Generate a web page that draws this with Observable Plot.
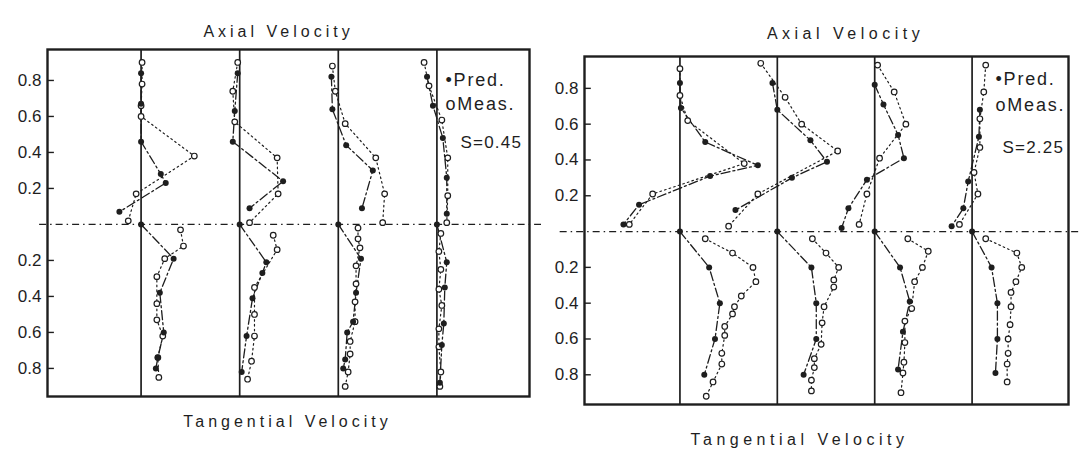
<!DOCTYPE html>
<html>
<head>
<meta charset="utf-8">
<script src="https://cdn.jsdelivr.net/npm/d3@7"></script>
<script src="https://cdn.jsdelivr.net/npm/@observablehq/plot@0.6"></script>
<style>
  html, body { margin: 0; padding: 0; background: #fff; }
  #wrap { width: 1082px; height: 453px; display: flex; }
  #wrap svg { display: block; }
</style>
</head>
<body>
<div id="wrap"></div>
<script>
// ---------------- DATA ----------------
// Station baselines (profile offsets across each panel)
const stations = [0, 1, 2, 3];
// Radius tick values (upper half: axial, lower half: tangential)
const rTicks = [0.2, 0.4, 0.6, 0.8];

// Each entry: [r, velocity offset from station baseline]
// ---- S = 0.45 (left panel) ----
const axialPredL = [
  [[0.84,0],[0.67,0],[0.46,0],[0.28,0.2],[0.23,0.25],[0.07,-0.22]],
  [[0.84,-0.02],[0.63,-0.05],[0.46,-0.07],[0.24,0.44],[0.09,0.1]],
  [[0.82,-0.07],[0.64,-0.06],[0.44,0.08],[0.30,0.35],[0.09,0.24]],
  [[0.82,-0.1],[0.66,-0.04],[0.48,0.06],[0.26,0.1],[0.06,0.1]]
];
const axialMeasL = [
  [[0.9,0.01],[0.78,0.01],[0.66,0],[0.6,0],[0.38,0.54],[0.17,-0.05],[0.02,-0.13]],
  [[0.9,-0.02],[0.74,-0.07],[0.57,-0.05],[0.37,0.38],[0.17,0.39],[0.01,0.1]],
  [[0.88,-0.06],[0.74,-0.03],[0.56,0.07],[0.37,0.38],[0.17,0.47],[0.01,0.45]],
  [[0.9,-0.13],[0.77,-0.08],[0.58,0.05],[0.37,0.11],[0.16,0.11],[0.01,0.1]]
];
const tangPredL = [
  [[0,0],[0.19,0.33],[0.38,0.19],[0.6,0.23],[0.74,0.17],[0.8,0.15]],
  [[0,0],[0.21,0.27],[0.27,0.23],[0.41,0.13],[0.62,0.07],[0.82,0.02]],
  [[0,0],[0.19,0.23],[0.38,0.18],[0.54,0.15],[0.6,0.09],[0.75,0.07],[0.8,0.05]],
  [[0,0],[0.21,0.1],[0.35,0.08],[0.55,0.07],[0.67,0.05],[0.88,0.03]]
];
const tangMeasL = [
  [[0.03,0.4],[0.12,0.43],[0.19,0.24],[0.29,0.16],[0.44,0.16],[0.53,0.16],[0.62,0.22],[0.74,0.17],[0.85,0.18]],
  [[0.06,0.34],[0.14,0.38],[0.35,0.15],[0.5,0.15],[0.62,0.15],[0.76,0.12],[0.86,0.08]],
  [[0.02,0.2],[0.08,0.2],[0.13,0.22],[0.23,0.18],[0.33,0.18],[0.43,0.17],[0.54,0.17],[0.65,0.12],[0.72,0.12],[0.82,0.1],[0.9,0.07]],
  [[0.05,0.04],[0.15,0.02],[0.25,0.04],[0.36,0.02],[0.45,0.05],[0.58,0.02],[0.68,0.02],[0.82,0.04],[0.9,0.03]]
];

// ---- S = 2.25 (right panel) ----
const axialPredR = [
  [[0.83,0],[0.69,0.01],[0.5,0.26],[0.37,0.8],[0.31,0.31],[0.15,-0.42],[0.04,-0.58]],
  [[0.83,-0.05],[0.68,0],[0.51,0.34],[0.39,0.51],[0.3,0.15],[0.12,-0.43]],
  [[0.82,0],[0.71,0.09],[0.54,0.24],[0.41,0.3],[0.29,-0.08],[0.13,-0.27],[0.02,-0.34]],
  [[0.68,0.08],[0.53,0.07],[0.28,-0.04],[0.13,-0.09],[0.03,-0.21]]
];
const axialMeasR = [
  [[0.91,0],[0.76,0],[0.62,0.08],[0.38,0.66],[0.21,-0.28],[0.04,-0.52]],
  [[0.94,-0.17],[0.75,0.08],[0.6,0.25],[0.45,0.62],[0.21,-0.2],[0.03,-0.5]],
  [[0.93,0.03],[0.78,0.2],[0.6,0.32],[0.41,0.05],[0.21,-0.08],[0.04,-0.16]],
  [[0.93,0.14],[0.78,0.12],[0.63,0.08],[0.47,0.08],[0.33,0.02],[0.21,0.06],[0.04,-0.13]]
];
const tangPredR = [
  [[0,0],[0.2,0.3],[0.4,0.41],[0.6,0.36],[0.8,0.25]],
  [[0,0],[0.2,0.35],[0.4,0.4],[0.6,0.4],[0.8,0.27]],
  [[0,0],[0.2,0.26],[0.39,0.36],[0.56,0.29],[0.77,0.24]],
  [[0,0],[0.2,0.2],[0.4,0.26],[0.6,0.26],[0.79,0.24]]
];
const tangMeasR = [
  [[0.04,0.26],[0.12,0.54],[0.2,0.75],[0.28,0.78],[0.36,0.63],[0.42,0.56],[0.46,0.54],[0.53,0.46],[0.58,0.46],[0.68,0.43],[0.74,0.43],[0.84,0.34],[0.92,0.27]],
  [[0.04,0.36],[0.12,0.5],[0.2,0.63],[0.27,0.58],[0.31,0.58],[0.42,0.48],[0.51,0.46],[0.63,0.45],[0.71,0.38],[0.76,0.38],[0.83,0.35],[0.89,0.35]],
  [[0.04,0.34],[0.11,0.55],[0.2,0.49],[0.28,0.41],[0.43,0.38],[0.5,0.31],[0.62,0.31],[0.73,0.3],[0.79,0.29],[0.9,0.27]],
  [[0.04,0.14],[0.12,0.46],[0.2,0.51],[0.28,0.45],[0.34,0.4],[0.42,0.4],[0.52,0.39],[0.6,0.37],[0.68,0.37],[0.74,0.36],[0.84,0.36]]
];

// Text
const titleTop = "Axial Velocity";
const titleBottom = "Tangential Velocity";
const legendPred = "\u2022Pred.";
const legendMeas = "oMeas.";
const swirlL = "S=0.45";
const swirlR = "S=2.25";

// ---------------- RENDER ----------------
const ink = "#1e1e1e";
const font = "'Liberation Sans', 'DejaVu Sans', sans-serif";

function rows(axial, tang, series) {
  const out = [];
  axial.forEach((prof, i) => prof.forEach(([r, v]) =>
    out.push({x: stations[i] + v, y: r, g: `a${i}`, series})));
  tang.forEach((prof, i) => prof.forEach(([r, v]) =>
    out.push({x: stations[i] + v, y: -r, g: `t${i}`, series})));
  return out;
}

function panel(cfg) {
  const pred = rows(cfg.axialPred, cfg.tangPred, "Pred.");
  const meas = rows(cfg.axialMeas, cfg.tangMeas, "Meas.");
  const yTicks = [...rTicks.map(d => -d), ...rTicks];
  const xd = cfg.xDomain;
  const svg = Plot.plot({
    width: 541,
    height: 453,
    marginLeft: cfg.m[0], marginRight: cfg.m[1], marginTop: cfg.m[2], marginBottom: cfg.m[3],
    style: {fontFamily: font, background: "#fff", color: ink, overflow: "visible"},
    x: {domain: xd, axis: null},
    y: {domain: cfg.yDomain, axis: null},
    marks: [
      Plot.ruleY([0], {x1: xd[0] + cfg.cl[0], x2: xd[1] + cfg.cl[1], stroke: ink, strokeWidth: 1.2, strokeDasharray: "7,4,1.5,4"}),
      Plot.ruleX(stations, {stroke: ink, strokeWidth: 1.7}),
      Plot.frame({stroke: ink, strokeWidth: 2.4}),
      Plot.ruleY(yTicks, {x1: xd[0], x2: xd[0] + 0.07, stroke: ink, strokeWidth: 1.4}),
      Plot.axisY({ticks: yTicks, tickFormat: d => Math.abs(d).toFixed(1), tickSize: 0, tickPadding: 6,
                  fontSize: 17, label: null, fill: ink}),
      Plot.line(meas, {x: "x", y: "y", z: "g", stroke: ink, strokeWidth: 1.2, strokeDasharray: "1.6,3.2"}),
      Plot.line(pred, {x: "x", y: "y", z: "g", stroke: ink, strokeWidth: 1.3, strokeDasharray: "9,3,2,3"}),
      Plot.dot(meas, {x: "x", y: "y", r: 2.8, stroke: ink, strokeWidth: 1.2, fill: "#fff"}),
      Plot.dot(pred, {x: "x", y: "y", r: 3, fill: ink}),
      Plot.text([titleTop], {text: d => d, frameAnchor: "top", dx: cfg.tTop[0], dy: cfg.tTop[1], fontSize: 16, fill: ink}),
      Plot.text([titleBottom], {text: d => d, frameAnchor: "bottom", dx: cfg.tBot[0], dy: cfg.tBot[1], fontSize: 16, fill: ink}),
      Plot.text([legendPred], {text: d => d, frameAnchor: "top-right", textAnchor: "start", dx: cfg.leg[0], dy: cfg.leg[1], fontSize: 18, fill: ink}),
      Plot.text([legendMeas], {text: d => d, frameAnchor: "top-right", textAnchor: "start", dx: cfg.leg[0], dy: cfg.leg[2], fontSize: 18, fill: ink}),
      Plot.text([cfg.swirl], {text: d => d, frameAnchor: "top-right", textAnchor: "start", dx: cfg.leg[3], dy: cfg.leg[4], fontSize: 17, fill: ink})
    ]
  });
  d3.select(svg).selectAll("text").each(function() {
    const t = this.textContent;
    if (t === titleTop || t === titleBottom) d3.select(this).attr("letter-spacing", cfg.ls);
    if (t === legendPred || t === legendMeas) d3.select(this).attr("letter-spacing", 1.8);
    if (t === cfg.swirl) d3.select(this).attr("letter-spacing", 1.2);
  });
  return svg;
}

const wrap = document.getElementById("wrap");
wrap.appendChild(panel({
  axialPred: axialPredL, axialMeas: axialMeasL, tangPred: tangPredL, tangMeas: tangMeasL,
  xDomain: [-0.949, 3.939], yDomain: [-0.956, 0.972],
  m: [47, 12, 49, 57],
  cl: [-0.08, 0.16],
  tTop: [-10, -24], tBot: [-1, 30], leg: [-84, 24, 48, -69, 86],
  swirl: swirlL, ls: 4
}));
wrap.appendChild(panel({
  axialPred: axialPredR, axialMeas: axialMeasR, tangPred: tangPredR, tangMeas: tangMeasR,
  xDomain: [-0.98, 3.99], yDomain: [-0.966, 0.978],
  m: [43, 14, 56, 49],
  cl: [-0.25, 0.14],
  tTop: [19, -29], tBot: [-27, 40], leg: [-73, 16, 42, -66, 84],
  swirl: swirlR, ls: 4.5
}));
</script>
</body>
</html>
